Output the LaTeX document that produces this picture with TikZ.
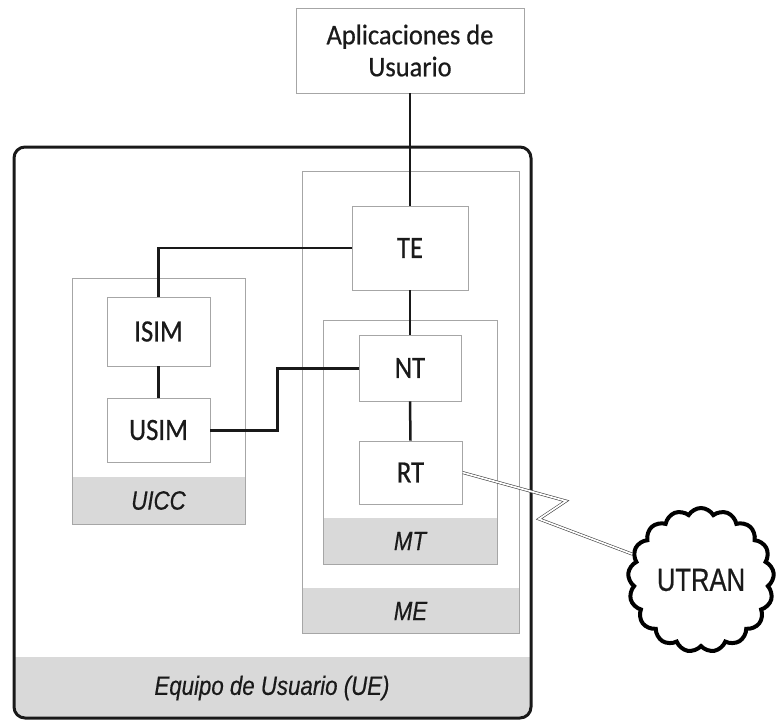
\documentclass[tikz,border=0pt]{standalone}
\usepackage{fontspec}
\setmainfont{Carlito}
\newfontfamily\boxfont[FakeStretch=0.86,FakeBold=0.6]{Carlito}
\newfontfamily\appfont[FakeStretch=0.93,FakeBold=0.5]{Carlito}
\newfontfamily\arialfont[FakeStretch=0.84,FakeBold=0.4]{Liberation Sans}
\newfontfamily\cloudfont[FakeStretch=0.8,FakeBold=0.6]{Liberation Sans}
\usetikzlibrary{shapes.symbols}
\definecolor{bandgray}{HTML}{D9D9D9}
\definecolor{edgegray}{HTML}{A6A6A6}
\definecolor{txt}{HTML}{1A1A1A}
\tikzset{
  box/.style={draw=edgegray, line width=0.9pt, fill=white, inner sep=0pt, text=txt,
    font=\boxfont\fontsize{31}{34}\selectfont},
  container/.style={draw=edgegray, line width=0.9pt},
  bandlabel/.style={inner sep=0pt, text=txt, font=\arialfont\itshape\fontsize{26.5}{30}\selectfont},
  wire/.style={line width=2.5pt, draw=black!90},
  thickwire/.style={line width=3pt, draw=black!90},
  bolt/.style={draw=black!75, line width=0.6pt, double=white, double distance=1.7pt},
}
\begin{document}
\begin{tikzpicture}[x=1pt, y=-1pt]
\useasboundingbox (0,0) rectangle (777,720);

% UE outer box with grey band
\begin{scope}
  \clip[rounded corners=11pt] (14,147) rectangle (531,718);
  \fill[bandgray] (14,657) rectangle (531,718);
\end{scope}
\draw[line width=3pt, black!90, rounded corners=11pt] (14,147) rectangle (531,718);
\node[bandlabel] (uelabel) at (272,688) {Equipo de Usuario (UE)};

% ME container
\fill[bandgray] (302,588) rectangle (519,633);
\draw[container] (302,171) rectangle (519,633);
\node[bandlabel] (melabel) at (410.5,611) {ME};

% MT container
\fill[bandgray] (323,518) rectangle (497,564);
\draw[container] (323,320) rectangle (497,564);
\node[bandlabel] (mtlabel) at (410,541) {MT};

% UICC container
\fill[bandgray] (72,477) rectangle (245,524);
\draw[container] (72,278) rectangle (245,524);
\node[bandlabel] (uicclabel) at (158.5,500.5) {UICC};

% boxes
\node[box, minimum width=228pt, minimum height=85pt, align=center,
      font=\appfont\fontsize{28.5}{32}\selectfont] (app) at (410,50.5) {Aplicaciones de\\Usuario};
\node[box, minimum width=116pt, minimum height=84pt] (te) at (410,248) {TE};
\node[box, minimum width=102pt, minimum height=66pt] (nt) at (410,368) {NT};
\node[box, minimum width=103pt, minimum height=63pt] (rt) at (410.5,472.5) {RT};
\node[box, minimum width=103pt, minimum height=69pt] (isim) at (158.5,331.5) {ISIM};
\node[box, minimum width=103pt, minimum height=64pt] (usim) at (158.5,430) {USIM};

% cloud
\node[cloud, draw=black, line width=4pt, cloud puffs=17, cloud puff arc=120,
      minimum width=146pt, minimum height=144pt, inner sep=0pt, text=txt,
      font=\cloudfont\fontsize{32}{34}\selectfont] (utran) at (701,580) {UTRAN};

% connectors
\draw[wire] (app.south) -- (te.north);
\draw[wire] (te.west) -| (isim.north);
\draw[wire] (isim.south) -- (usim.north);
\draw[wire] (te.south) -- (nt.north);
\draw[wire] (nt.south) -- (rt.north);
\coordinate (bend) at (277,430);
\draw[thickwire] (usim.east) -- (bend) |- (nt.west);

% radio link
\coordinate (b1) at (566,501);
\coordinate (b2) at (539,519);
\draw[bolt] (rt.east) -- (b1) -- (b2) -- (utran);
\end{tikzpicture}
\end{document}
